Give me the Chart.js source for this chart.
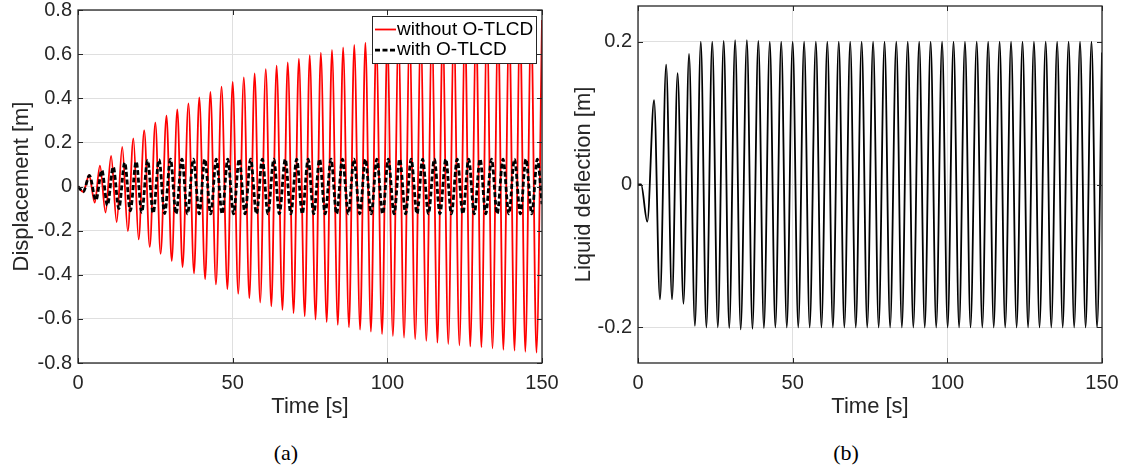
<!DOCTYPE html>
<html>
<head>
<meta charset="utf-8">
<script src="https://cdn.jsdelivr.net/npm/chart.js@4.4.1/dist/chart.umd.min.js"></script>
<style>
  html, body { margin: 0; padding: 0; background: #fff; }
  #wrap { position: relative; width: 1126px; height: 471px; overflow: hidden; }
  canvas { position: absolute; top: 0; }
  #chartA { left: 0; }
  #chartB { left: 560px; }
  .cap { position: absolute; top: 440px; width: 60px; text-align: center;
         font-family: "Liberation Serif", serif; font-size: 22px; line-height: 26px; color: #000; }
</style>
</head>
<body>
<div id="wrap">
  <canvas id="chartA" width="563" height="430"></canvas>
  <canvas id="chartB" width="566" height="430"></canvas>
  <div class="cap" style="left:256px">(a)</div>
  <div class="cap" style="left:816px">(b)</div>
</div>
<script>
"use strict";

// ---- data (turning points of each curve) ----
const timeTicks = [0, 50, 100, 150];
const dispTicks = [-0.8, -0.6, -0.4, -0.2, 0, 0.2, 0.4, 0.6, 0.8];
const liquidTicks = [-0.2, 0, 0.2];

// without O-TLCD (red)
const redEndTime = [0];
const redEndValue = [0];
const redPeakTime = [
  3.6, 7.1, 10.7, 14.3, 17.9, 21.4, 25.0, 28.6, 32.1, 35.7,
  39.2, 42.8, 46.4, 50.0, 53.6, 57.1, 60.7, 64.2, 67.8, 71.4,
  74.9, 78.5, 82.1, 85.7, 89.3, 92.9, 96.4, 100.0, 103.6, 107.2,
  110.8, 114.4, 117.9, 121.5, 125.1, 128.7, 132.2, 135.8, 139.4, 142.9,
  146.5, 150.0
];
const redPeakValue = [
  0.051, 0.095, 0.139, 0.180, 0.218, 0.254, 0.289, 0.321, 0.350, 0.377,
  0.404, 0.429, 0.453, 0.474, 0.495, 0.513, 0.532, 0.548, 0.563, 0.580,
  0.595, 0.607, 0.619, 0.631, 0.642, 0.652, 0.662, 0.671, 0.679, 0.687,
  0.694, 0.701, 0.708, 0.714, 0.720, 0.725, 0.730, 0.735, 0.740, 0.745,
  0.750, 0.755
];
const redTroughTime = [
  1.7, 5.4, 8.9, 12.5, 16.1, 19.6, 23.2, 26.7, 30.3, 33.8,
  37.5, 41.1, 44.6, 48.3, 51.8, 55.4, 58.9, 62.5, 66.1, 69.7,
  73.3, 76.8, 80.4, 84.0, 87.6, 91.2, 94.7, 98.3, 101.8, 105.4,
  109.0, 112.6, 116.2, 119.7, 123.3, 126.8, 130.4, 134.0, 137.5, 141.1,
  144.6, 148.2
];
const redTroughValue = [
  -0.024, -0.073, -0.118, -0.161, -0.202, -0.240, -0.274, -0.305, -0.337, -0.365,
  -0.394, -0.420, -0.444, -0.465, -0.486, -0.506, -0.526, -0.543, -0.559, -0.574,
  -0.588, -0.603, -0.615, -0.627, -0.638, -0.649, -0.658, -0.669, -0.678, -0.685,
  -0.693, -0.700, -0.708, -0.714, -0.720, -0.725, -0.729, -0.734, -0.740, -0.744,
  -0.749, -0.753
];

// with O-TLCD (black dashed)
const blackEndTime = [0, 150];
const blackEndValue = [0, -0.08];
const blackPeakTime = [
  3.7, 7.7, 11.4, 15.1, 18.8, 22.5, 26.2, 29.9, 33.6, 37.3,
  41.0, 44.7, 48.4, 52.1, 55.8, 59.6, 63.3, 67.0, 70.7, 74.4,
  78.1, 81.8, 85.5, 89.2, 92.9, 96.6, 100.3, 104.0, 107.7, 111.4,
  115.2, 118.9, 122.6, 126.3, 130.0, 133.7, 137.4, 141.1, 144.8, 148.5
];
const blackPeakValue = [
  0.050, 0.074, 0.089, 0.108, 0.113, 0.119, 0.122, 0.124, 0.124, 0.124,
  0.124, 0.124, 0.124, 0.124, 0.124, 0.124, 0.124, 0.124, 0.124, 0.124,
  0.124, 0.124, 0.124, 0.124, 0.124, 0.124, 0.124, 0.124, 0.124, 0.124,
  0.124, 0.124, 0.124, 0.124, 0.124, 0.124, 0.124, 0.124, 0.124, 0.124
];
const blackTroughTime = [
  1.7, 5.8, 9.5, 13.2, 16.9, 20.6, 24.3, 28.0, 31.7, 35.4,
  39.2, 42.9, 46.6, 50.3, 54.0, 57.7, 61.4, 65.1, 68.8, 72.5,
  76.2, 79.9, 83.6, 87.4, 91.1, 94.8, 98.5, 102.2, 105.9, 109.6,
  113.3, 117.0, 120.7, 124.4, 128.1, 131.8, 135.5, 139.3, 143.0, 146.7
];
const blackTroughValue = [
  -0.024, -0.062, -0.085, -0.100, -0.110, -0.117, -0.121, -0.123, -0.124, -0.124,
  -0.124, -0.124, -0.124, -0.124, -0.124, -0.124, -0.124, -0.124, -0.124, -0.124,
  -0.124, -0.124, -0.124, -0.124, -0.124, -0.124, -0.124, -0.124, -0.124, -0.124,
  -0.124, -0.124, -0.124, -0.124, -0.124, -0.124, -0.124, -0.124, -0.124, -0.124
];

// liquid deflection (panel b)
const liquidEndTime = [0, 1.0, 150];
const liquidEndValue = [0, 0, 0.185];
const liquidPeakTime = [
  5.2, 9.1, 12.8, 16.5, 20.3, 24.0, 27.7, 31.4, 35.2, 38.9,
  42.6, 46.3, 50.0, 53.7, 57.5, 61.2, 64.9, 68.6, 72.3, 76.0,
  79.7, 83.5, 87.2, 90.9, 94.6, 98.3, 102.0, 105.7, 109.5, 113.2,
  116.9, 120.6, 124.3, 128.0, 131.8, 135.5, 139.2, 142.9, 146.6
];
const liquidPeakValue = [
  0.118, 0.168, 0.156, 0.183, 0.200, 0.200, 0.201, 0.202, 0.202, 0.201,
  0.200, 0.200, 0.200, 0.200, 0.200, 0.200, 0.200, 0.200, 0.200, 0.200,
  0.200, 0.200, 0.200, 0.200, 0.200, 0.200, 0.200, 0.200, 0.200, 0.200,
  0.200, 0.200, 0.200, 0.200, 0.200, 0.200, 0.200, 0.200, 0.200
];
const liquidTroughTime = [
  3.0, 7.1, 11.0, 14.7, 18.4, 22.1, 25.8, 29.5, 33.2, 37.0,
  40.7, 44.4, 48.1, 51.8, 55.5, 59.3, 63.0, 66.7, 70.4, 74.1,
  77.8, 81.5, 85.3, 89.0, 92.7, 96.4, 100.1, 103.8, 107.5, 111.3,
  115.0, 118.7, 122.4, 126.1, 129.8, 133.6, 137.3, 141.0, 144.7, 148.4
];
const liquidTroughValue = [
  -0.052, -0.161, -0.161, -0.167, -0.198, -0.200, -0.200, -0.201, -0.203, -0.202,
  -0.201, -0.200, -0.200, -0.200, -0.200, -0.200, -0.200, -0.200, -0.200, -0.200,
  -0.200, -0.200, -0.200, -0.200, -0.200, -0.200, -0.200, -0.200, -0.200, -0.200,
  -0.200, -0.200, -0.200, -0.200, -0.200, -0.200, -0.200, -0.200, -0.200, -0.200
];

const FONT = "'Liberation Sans', Arial, sans-serif";
const AXIS = "#262626";

// merge the separate turning point lists into one sorted {x,y} list
function points(times, values) {
  let out = [];
  times.forEach((t, k) => t.forEach((x, i) => out.push({ x: x, y: values[k][i] })));
  return out.sort((a, b) => a.x - b.x);
}

function lineSet(label, data, color, width, dash, order) {
  return {
    label: label,
    data: data,
    borderColor: color,
    borderWidth: width,
    borderDash: dash,
    pointRadius: 0,
    fill: false,
    cubicInterpolationMode: "monotone",
    order: order,
  };
}

// box round the axes, inward tick marks, and the legend in panel (a)
const boxPlugin = {
  id: "box",
  afterDraw(chart, args, opts) {
    const ctx = chart.ctx;
    const a = chart.chartArea;
    const sx = chart.scales.x, sy = chart.scales.y;
    ctx.save();
    ctx.setLineDash([]);
    ctx.strokeStyle = AXIS;
    ctx.lineWidth = 1;
    sx.ticks.forEach(function (t) {
      const px = Math.round(sx.getPixelForValue(t.value)) + 0.5;
      ctx.beginPath();
      ctx.moveTo(px, a.bottom); ctx.lineTo(px, a.bottom - 5);
      ctx.moveTo(px, a.top); ctx.lineTo(px, a.top + 5);
      ctx.stroke();
    });
    sy.ticks.forEach(function (t) {
      const py = Math.round(sy.getPixelForValue(t.value)) + 0.5;
      ctx.beginPath();
      ctx.moveTo(a.left, py); ctx.lineTo(a.left + 5, py);
      ctx.moveTo(a.right, py); ctx.lineTo(a.right - 5, py);
      ctx.stroke();
    });
    ctx.lineWidth = 1.3;
    ctx.strokeRect(a.left, a.top, a.right - a.left, a.bottom - a.top);

    if (opts.legend) {
      const w = 164, h = 47;
      const left = a.right - 6 - w, top = a.top + 6;
      ctx.fillStyle = "#fff";
      ctx.fillRect(left, top, w, h);
      ctx.strokeStyle = AXIS;
      ctx.lineWidth = 1;
      ctx.strokeRect(left + 0.5, top + 0.5, w, h);
      ctx.font = "19px " + FONT;
      ctx.textBaseline = "middle";
      chart.data.datasets.forEach(function (ds, i) {
        const y = top + 13.5 + i * 20.7;
        ctx.strokeStyle = ds.borderColor;
        ctx.lineWidth = ds.borderWidth;
        ctx.setLineDash(ds.borderDash || []);
        ctx.beginPath();
        ctx.moveTo(left + 3, y);
        ctx.lineTo(left + 24, y);
        ctx.stroke();
        ctx.fillStyle = "#000";
        ctx.fillText(ds.label, left + 25, y);
      });
    }
    ctx.restore();
  },
};

function makeChart(id, datasets, yMin, yMax, yTicks, yTitle, titlePad, pad, legend) {
  return new Chart(document.getElementById(id).getContext("2d"), {
    type: "line",
    data: { datasets: datasets },
    plugins: [boxPlugin],
    options: {
      responsive: false,
      animation: false,
      devicePixelRatio: 1,
      events: [],
      layout: { padding: pad },
      plugins: {
        legend: { display: false },
        tooltip: { enabled: false },
        box: { legend: legend },
      },
      scales: {
        x: {
          type: "linear",
          min: 0,
          max: 150,
          afterBuildTicks: function (s) { s.ticks = timeTicks.map((v) => ({ value: v })); },
          afterFit: function (s) { s.height = 67; s.paddingLeft = 0; s.paddingRight = 0; },
          grid: { color: "#dfdfdf", drawTicks: false },
          border: { display: false },
          ticks: {
            padding: 8,
            color: AXIS,
            maxRotation: 0,
            font: { family: FONT, size: 20 },
            callback: (v) => String(v),
          },
          title: {
            display: true,
            text: "Time [s]",
            color: AXIS,
            font: { family: FONT, size: 22 },
            padding: { top: 0, bottom: 10 },
          },
        },
        y: {
          type: "linear",
          min: yMin,
          max: yMax,
          afterBuildTicks: function (s) { s.ticks = yTicks.map((v) => ({ value: v })); },
          afterFit: function (s) { s.width = 78; s.paddingTop = 0; s.paddingBottom = 0; },
          grid: { color: "#dfdfdf", drawTicks: false },
          border: { display: false },
          ticks: {
            padding: 6,
            color: AXIS,
            font: { family: FONT, size: 20 },
            callback: (v) => String(v),
          },
          title: {
            display: true,
            text: yTitle,
            color: AXIS,
            font: { family: FONT, size: 22 },
            padding: { top: titlePad, bottom: 0 },
          },
        },
      },
    },
  });
}

const chartA = makeChart(
  "chartA",
  [
    lineSet("without O-TLCD",
      points([redEndTime, redPeakTime, redTroughTime], [redEndValue, redPeakValue, redTroughValue]),
      "#ff0000", 1.8, [], 2),
    lineSet("with O-TLCD",
      points([blackEndTime, blackPeakTime, blackTroughTime], [blackEndValue, blackPeakValue, blackTroughValue]),
      "#000000", 2.8, [5, 2.5], 1),
  ],
  -0.8, 0.8, dispTicks, "Displacement [m]", 9,
  { top: 10, right: 21, left: 0, bottom: 0 }, true
);

const chartB = makeChart(
  "chartB",
  [
    lineSet("liquid",
      points([liquidEndTime, liquidPeakTime, liquidTroughTime], [liquidEndValue, liquidPeakValue, liquidTroughValue]),
      "#000000", 1.8, [], 1),
  ],
  -0.25, 0.25, liquidTicks, "Liquid deflection [m]", 11,
  { top: 6, right: 24, left: 0, bottom: 0 }, false
);
</script>
</body>
</html>
